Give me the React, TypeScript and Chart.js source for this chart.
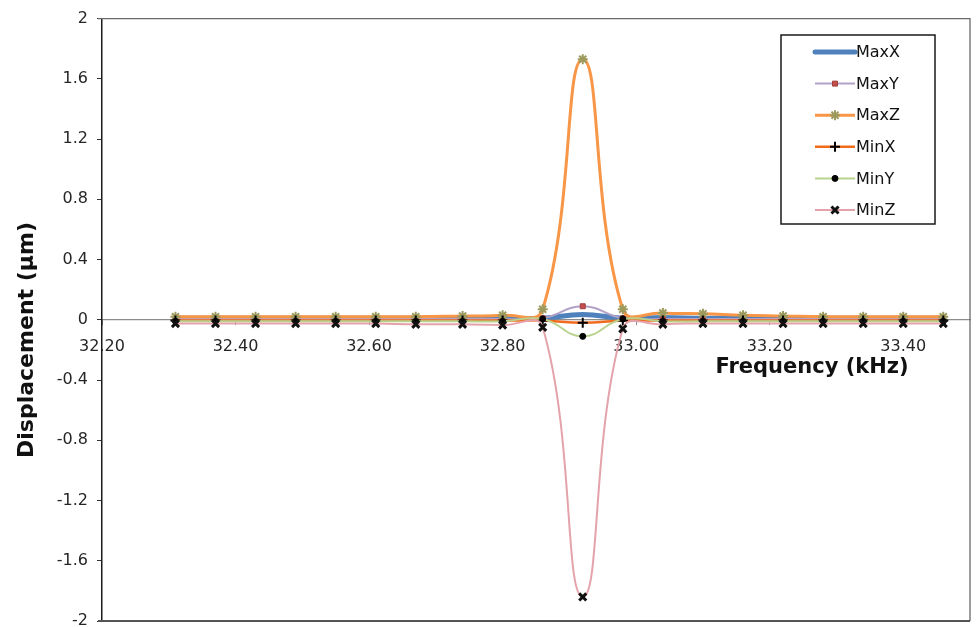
import { useEffect, useRef } from "react";
import { Chart, registerables } from "chart.js";
import { drawPoint } from "chart.js/helpers";

Chart.register(...registerables);

// Sweep frequencies (kHz)
const frequencies = [
  32.31, 32.37, 32.43, 32.49, 32.55, 32.61, 32.67, 32.74, 32.8, 32.86,
  32.92, 32.98, 33.04, 33.1, 33.16, 33.22, 33.28, 33.34, 33.4, 33.46,
];

// Displacement (µm) per series
const maxX = [
  0.01, 0.01, 0.01, 0.01, 0.01, 0.01, 0.01, 0.01, 0.01, 0.01,
  0.035, 0.01, 0.015, 0.01, 0.01, 0.01, 0.01, 0.01, 0.01, 0.01,
];
const maxY = [
  0.005, 0.005, 0.005, 0.005, 0.005, 0.005, 0.005, 0.005, 0.005, 0.01,
  0.09, 0.01, 0.005, 0.005, 0.005, 0.005, 0.005, 0.005, 0.005, 0.005,
];
const maxZ = [
  0.02, 0.02, 0.02, 0.02, 0.02, 0.02, 0.02, 0.025, 0.03, 0.07,
  1.73, 0.07, 0.045, 0.04, 0.03, 0.025, 0.02, 0.02, 0.02, 0.02,
];
const minX = [
  -0.005, -0.005, -0.005, -0.005, -0.005, -0.005, -0.005, -0.005, -0.005, -0.005,
  -0.02, -0.005, -0.005, -0.005, -0.005, -0.005, -0.005, -0.005, -0.005, -0.005,
];
const minY = [
  -0.01, -0.01, -0.01, -0.01, -0.01, -0.01, -0.01, -0.01, -0.01, 0.005,
  -0.11, 0.005, -0.01, -0.01, -0.01, -0.01, -0.01, -0.01, -0.01, -0.01,
];
const minZ = [
  -0.025, -0.025, -0.025, -0.025, -0.025, -0.025, -0.03, -0.03, -0.035, -0.05,
  -1.84, -0.06, -0.03, -0.025, -0.025, -0.025, -0.025, -0.025, -0.025, -0.025,
];

const seriesNames = ["MaxX", "MaxY", "MaxZ", "MinX", "MinY", "MinZ"];
const seriesValues = [maxX, maxY, maxZ, minX, minY, minZ];

const xTickValues = [32.2, 32.4, 32.6, 32.8, 33.0, 33.2, 33.4];
const yTickValues = [-2, -1.6, -1.2, -0.8, -0.4, 0, 0.4, 0.8, 1.2, 1.6, 2];

const xTitle = "Frequency (kHz)";
const yTitle = "Displacement (µm)";

const FONT = "'DejaVu Sans', sans-serif";
const TICK_COLOR = "#262626";

type SeriesStyle = {
  line: string;
  lineWidth: number;
  pointStyle: any;
  radius: number;
  pointBorder: string;
  pointFill: string;
  pointBorderWidth: number;
};

const styles: SeriesStyle[] = [
  { line: "#4F81BD", lineWidth: 5, pointStyle: false, radius: 0, pointBorder: "#4F81BD", pointFill: "#4F81BD", pointBorderWidth: 0 },
  { line: "#B3A2C7", lineWidth: 2, pointStyle: "rect", radius: 3.5, pointBorder: "#A23B38", pointFill: "#C0504D", pointBorderWidth: 1 },
  { line: "#F79646", lineWidth: 3, pointStyle: "star", radius: 5, pointBorder: "#9C9A5C", pointFill: "#9C9A5C", pointBorderWidth: 2 },
  { line: "#F26B1D", lineWidth: 2.5, pointStyle: "cross", radius: 5, pointBorder: "#000000", pointFill: "#000000", pointBorderWidth: 2 },
  { line: "#B9D38F", lineWidth: 2, pointStyle: "circle", radius: 3, pointBorder: "#000000", pointFill: "#000000", pointBorderWidth: 1 },
  { line: "#E4A3AA", lineWidth: 2, pointStyle: "crossRot", radius: 5, pointBorder: "#111111", pointFill: "#111111", pointBorderWidth: 3 },
];

// Frame around the plot, axis titles and the boxed legend
const decorations = {
  id: "decorations",
  afterDraw(chart: any) {
    const { ctx, chartArea } = chart;
    const { left, right, top, bottom } = chartArea;
    ctx.save();

    // plot frame
    ctx.strokeStyle = "#6a6a6a";
    ctx.lineWidth = 1.3;
    ctx.beginPath();
    ctx.moveTo(left - 4, top);
    ctx.lineTo(right, top);
    ctx.lineTo(right, bottom);
    ctx.stroke();
    ctx.strokeStyle = "#555555";
    ctx.lineWidth = 2.2;
    ctx.beginPath();
    ctx.moveTo(left - 4, bottom);
    ctx.lineTo(right, bottom);
    ctx.stroke();

    // axis titles
    ctx.fillStyle = "#111111";
    ctx.font = `bold 22px ${FONT}`;
    ctx.textAlign = "center";
    ctx.textBaseline = "middle";
    ctx.save();
    ctx.translate(27, 340);
    ctx.rotate(-Math.PI / 2);
    ctx.fillText(yTitle, 0, 0);
    ctx.restore();
    ctx.font = `bold 21px ${FONT}`;
    ctx.fillText(xTitle, 812, 368);

    // legend
    const boxX = 781;
    const boxY = 35;
    const boxW = 154;
    const boxH = 189;
    ctx.fillStyle = "#ffffff";
    ctx.fillRect(boxX, boxY, boxW, boxH);
    ctx.strokeStyle = "#1a1a1a";
    ctx.lineWidth = 1.5;
    ctx.strokeRect(boxX, boxY, boxW, boxH);

    ctx.font = `16px ${FONT}`;
    ctx.textAlign = "left";
    ctx.textBaseline = "middle";
    seriesNames.forEach((name, i) => {
      const st = styles[i];
      const cy = 52 + i * 31.6;
      ctx.strokeStyle = st.line;
      ctx.lineWidth = st.lineWidth;
      ctx.lineCap = i === 0 ? "round" : "butt";
      ctx.beginPath();
      ctx.moveTo(815, cy);
      ctx.lineTo(855, cy);
      ctx.stroke();
      if (st.pointStyle) {
        ctx.fillStyle = st.pointFill;
        ctx.strokeStyle = st.pointBorder;
        ctx.lineWidth = st.pointBorderWidth;
        drawPoint(ctx, { pointStyle: st.pointStyle, radius: st.radius, rotation: 0, borderWidth: st.pointBorderWidth }, 835, cy);
      }
      ctx.fillStyle = "#111111";
      ctx.fillText(name, 856, cy + 1);
    });
    ctx.restore();
  },
};

export default function App() {
  const canvasRef = useRef<HTMLCanvasElement | null>(null);

  useEffect(() => {
    const canvas = canvasRef.current;
    if (!canvas) return;

    const datasets = seriesNames.map((name, i) => {
      const st = styles[i];
      return {
        label: name,
        data: frequencies.map((f, j) => ({ x: f, y: seriesValues[i][j] })),
        showLine: true,
        tension: 0.45,
        borderColor: st.line,
        borderWidth: st.lineWidth,
        backgroundColor: st.pointFill,
        pointStyle: st.pointStyle,
        pointRadius: st.radius,
        pointBorderColor: st.pointBorder,
        pointBackgroundColor: st.pointFill,
        pointBorderWidth: st.pointBorderWidth,
        order: seriesNames.length - 1 - i,
        clip: false as any,
      };
    });

    const chart = new Chart(canvas, {
      type: "scatter",
      data: { datasets },
      options: {
        responsive: true,
        maintainAspectRatio: false,
        animation: false,
        layout: { padding: { left: 0, right: 5, top: 16, bottom: 19 } },
        plugins: {
          legend: { display: false },
          tooltip: { enabled: false },
        },
        scales: {
          x: {
            type: "linear",
            position: { y: 0 } as any,
            min: 32.2,
            max: 33.5,
            afterBuildTicks: (scale: any) => {
              scale.ticks = xTickValues.map((v) => ({ value: v }));
            },
            ticks: {
              autoSkip: false,
              maxRotation: 0,
              padding: 12,
              color: TICK_COLOR,
              font: { family: FONT, size: 16 },
              callback: (v: any) => Number(v).toFixed(2),
            },
            grid: { display: true, drawOnChartArea: false, tickLength: 5, color: "#8c8c8c" },
            border: { display: true, color: "#8c8c8c", width: 1.2 },
          },
          y: {
            type: "linear",
            min: -2,
            max: 2,
            afterBuildTicks: (scale: any) => {
              scale.ticks = yTickValues.map((v) => ({ value: v }));
            },
            afterFit: (scale: any) => {
              scale.width = 102;
            },
            ticks: {
              padding: 9,
              color: TICK_COLOR,
              font: { family: FONT, size: 16 },
              callback: (v: any) => String(Math.round(Number(v) * 10) / 10),
            },
            grid: { display: true, drawOnChartArea: false, tickLength: 5, color: "#333333" },
            border: { display: true, color: "#1a1a1a", width: 1.5 },
          },
        },
      },
      plugins: [decorations],
    });

    return () => chart.destroy();
  }, []);

  return (
    <div style={{ position: "fixed", left: 0, top: 0, width: 978, height: 640, background: "#ffffff" }}>
      <canvas ref={canvasRef} />
    </div>
  );
}
